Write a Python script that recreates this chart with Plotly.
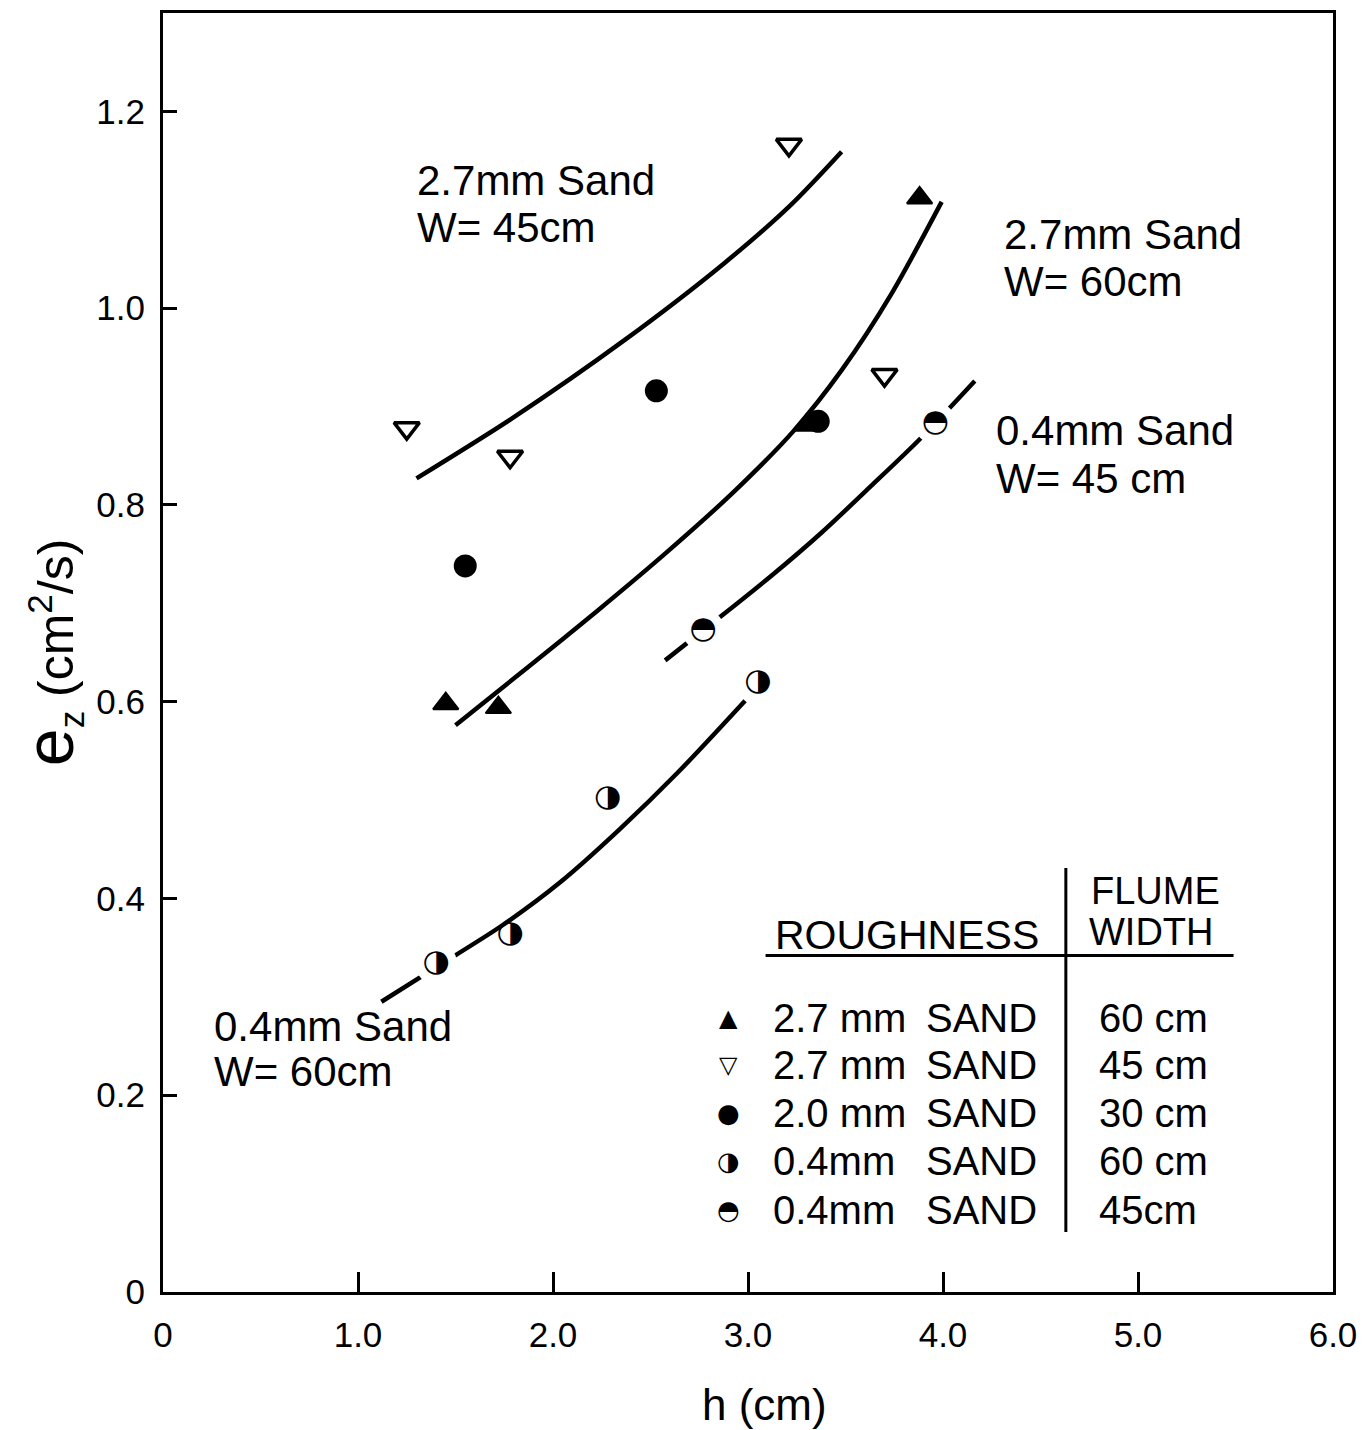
import plotly.graph_objects as go

# ---------------- data ----------------
h_27_60 = [1.45, 1.72, 3.30, 3.88]
e_27_60 = [0.598, 0.594, 0.881, 1.112]

h_27_45 = [1.25, 1.78, 3.21, 3.70]
e_27_45 = [0.878, 0.849, 1.166, 0.932]

h_20_30 = [1.55, 2.53, 3.36]
e_20_30 = [0.738, 0.916, 0.885]

h_04_60 = [1.40, 1.78, 2.28, 3.05]
e_04_60 = [0.334, 0.364, 0.502, 0.620]

h_04_45 = [2.77, 3.96]
e_04_45 = [0.673, 0.883]

# fitted curves
curve_27_45_h = [1.30, 1.79, 2.37, 2.88, 3.22, 3.48]
curve_27_45_e = [0.827, 0.888, 0.968, 1.046, 1.105, 1.159]

curve_27_60_h = [1.500, 1.871, 2.225, 2.578, 2.931, 3.233, 3.484, 3.734, 3.993]
curve_27_60_e = [0.576, 0.635, 0.692, 0.751, 0.814, 0.875, 0.938, 1.014, 1.108]

curve_04_45_h = [2.575, 2.863, 3.120, 3.378, 3.630, 3.882, 4.163]
curve_04_45_e = [0.642, 0.687, 0.728, 0.772, 0.819, 0.867, 0.926]

curve_04_60_h = [1.12, 1.40, 1.735, 2.04, 2.34, 2.64, 2.985]
curve_04_60_e = [0.295, 0.330, 0.372, 0.417, 0.470, 0.528, 0.601]

# points that the curve passes through (line is broken around them)
gap_04_60 = [0, 3]
gap_04_45 = [0, 1]

x_ticks = [0, 1, 2, 3, 4, 5, 6]
x_tick_text = ["0", "1.0", "2.0", "3.0", "4.0", "5.0", "6.0"]
y_ticks = [0, 0.2, 0.4, 0.6, 0.8, 1.0, 1.2]
y_tick_text = ["0", "0.2", "0.4", "0.6", "0.8", "1.0", "1.2"]

legend_symbols = ["▲", "▽", "●", "◑", "◓"]
legend_size = ["2.7\u00a0mm", "2.7\u00a0mm", "2.0\u00a0mm", "0.4mm", "0.4mm"]
legend_sand = ["SAND"] * 5
legend_width = ["60\u00a0cm", "45\u00a0cm", "30\u00a0cm", "60\u00a0cm", "45cm"]

FONT = "Liberation Sans, Arial, Helvetica, sans-serif"
GLYPH_FONT = "DejaVu Sans"

fig = go.Figure()

# curves
for hh, ee in [(curve_27_45_h, curve_27_45_e), (curve_27_60_h, curve_27_60_e),
               (curve_04_45_h, curve_04_45_e), (curve_04_60_h, curve_04_60_e)]:
    fig.add_trace(go.Scatter(x=hh, y=ee, mode="lines",
                             line=dict(color="black", width=4.5, shape="spline", smoothing=0.8),
                             hoverinfo="skip", showlegend=False))

# white halos for the line breaks
fig.add_trace(go.Scatter(x=[h_04_60[i] for i in gap_04_60] + [h_04_45[i] for i in gap_04_45],
                         y=[e_04_60[i] for i in gap_04_60] + [e_04_45[i] for i in gap_04_45],
                         mode="markers", marker=dict(symbol="circle", size=42, color="white", line=dict(width=0)),
                         hoverinfo="skip", showlegend=False))

fig.add_trace(go.Scatter(x=h_27_60, y=e_27_60, mode="markers", name="2.7 mm SAND 60 cm",
                         marker=dict(symbol="triangle-up", size=22, color="black", line=dict(color="black", width=2))))
fig.add_trace(go.Scatter(x=h_27_45, y=e_27_45, mode="markers", name="2.7 mm SAND 45 cm",
                         marker=dict(symbol="triangle-down", size=22, color="white", line=dict(color="black", width=3.5))))
fig.add_trace(go.Scatter(x=h_20_30, y=e_20_30, mode="markers", name="2.0 mm SAND 30 cm",
                         marker=dict(symbol="circle", size=23, color="black", line=dict(width=0))))
fig.add_trace(go.Scatter(x=h_04_60, y=e_04_60, mode="text", name="0.4 mm SAND 60 cm",
                         text=["◑"] * len(h_04_60), textposition="middle center",
                         textfont=dict(family=GLYPH_FONT, size=31, color="black")))
fig.add_trace(go.Scatter(x=h_04_45, y=e_04_45, mode="text", name="0.4 mm SAND 45 cm",
                         text=["◓"] * len(h_04_45), textposition="middle center",
                         textfont=dict(family=GLYPH_FONT, size=31, color="black")))

ann = []
def label(x, y, text, size=42, xanchor="left", family=FONT):
    ann.append(dict(x=x, y=y, xref="x", yref="y", text=text, showarrow=False, xanchor=xanchor,
                    yanchor="middle", font=dict(family=family, size=size, color="black")))

# curve labels
label(1.29, 1.130, "2.7mm Sand")
label(1.29, 1.082, "W= 45cm")
label(4.30, 1.075, "2.7mm Sand")
label(4.30, 1.027, "W= 60cm")
label(4.26, 0.876, "0.4mm Sand")
label(4.26, 0.827, "W= 45\u00a0cm")
label(0.25, 0.270, "0.4mm Sand")
label(0.25, 0.224, "W= 60cm")

# legend table
label(3.13, 0.363, "ROUGHNESS", size=41)
label(5.09, 0.408, "FLUME", size=38, xanchor="center")
label(5.07, 0.366, "WIDTH", size=38, xanchor="center")
row_y = [0.279, 0.231, 0.182, 0.133, 0.083]
for g, s1, s2, w, yy in zip(legend_symbols, legend_size, legend_sand, legend_width, row_y):
    label(2.90, yy, g, size=24 if g in "▲▽" else 26, xanchor="center", family=GLYPH_FONT)
    label(3.12, yy, s1, size=40)
    label(3.90, yy, s2, size=40)
    label(4.79, yy, w, size=40)

# axis titles
ann.append(dict(x=0.5145, y=-0.088, xref="paper", yref="paper", showarrow=False, xanchor="center", yanchor="middle",
                text="h (cm)", font=dict(family=FONT, size=44, color="black")))
ann.append(dict(x=-0.096, y=0.500, xref="paper", yref="paper", showarrow=False, xanchor="center", yanchor="middle",
                textangle=-90,
                text="<span style='font-size:68px'>e</span><sub>z</sub> (cm<sup>2</sup>/s)",
                font=dict(family=FONT, size=50, color="black")))

shapes = [
    dict(type="line", xref="x", yref="y", x0=3.09, x1=5.49, y0=0.342, y1=0.342, line=dict(color="black", width=3)),
    dict(type="line", xref="x", yref="y", x0=4.63, x1=4.63, y0=0.061, y1=0.431, line=dict(color="black", width=3)),
]

fig.update_layout(
    width=1358, height=1422,
    margin=dict(l=155, r=33, t=2, b=138),
    paper_bgcolor="white", plot_bgcolor="white",
    showlegend=False,
    annotations=ann, shapes=shapes,
    font=dict(family=FONT, color="black"),
)
fig.update_xaxes(range=[0, 6], tickvals=x_ticks, ticktext=x_tick_text, ticks="inside", ticklen=20, tickwidth=3,
                 tickcolor="black", showline=True, linecolor="black", linewidth=3, mirror=True, showgrid=False,
                 zeroline=False, tickfont=dict(family=FONT, size=35, color="black"), ticklabelstandoff=10)
fig.update_yaxes(range=[0, 1.30], tickvals=y_ticks, ticktext=y_tick_text, ticks="inside", ticklen=14, tickwidth=3,
                 tickcolor="black", showline=True, linecolor="black", linewidth=3, mirror=True, showgrid=False,
                 zeroline=False, tickfont=dict(family=FONT, size=35, color="black"), ticklabelstandoff=8)

fig.write_html("out.html")
